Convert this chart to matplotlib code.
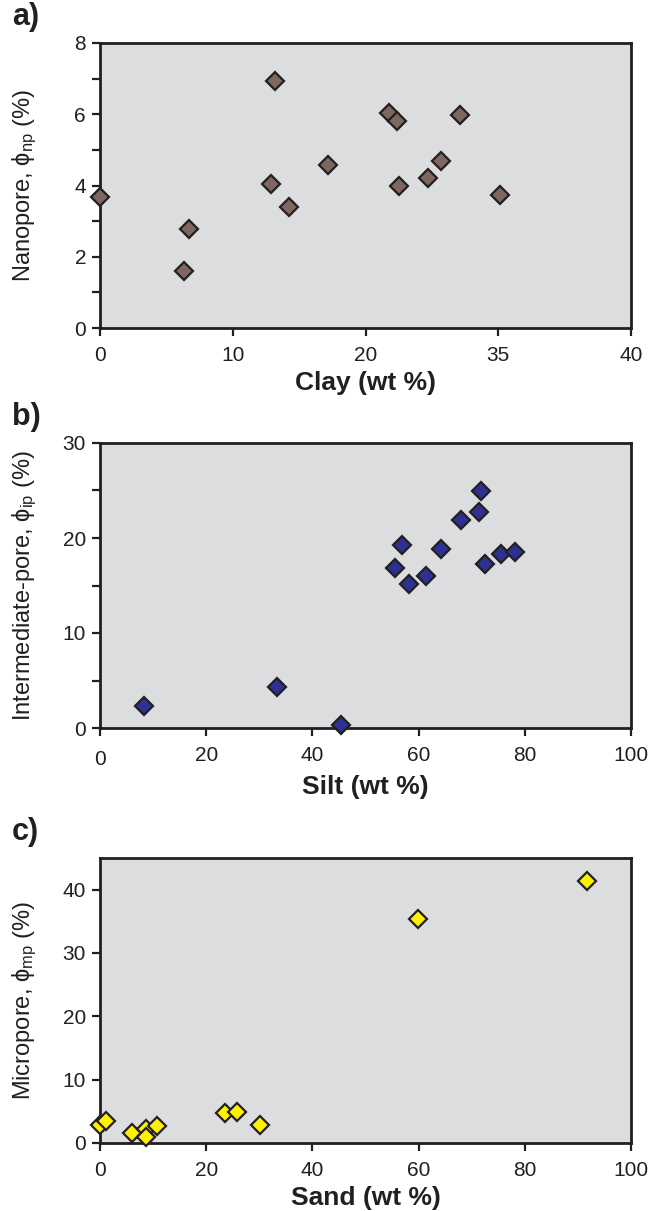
import matplotlib
matplotlib.use("Agg")
import matplotlib.pyplot as plt
from matplotlib.ticker import FixedLocator

plt.rcParams["font.family"] = ["Liberation Sans", "DejaVu Sans"]
plt.rcParams["mathtext.fontset"] = "custom"
plt.rcParams["mathtext.rm"] = "Liberation Sans"
plt.rcParams["mathtext.it"] = "Liberation Sans:italic"

# (a) clay vs nanopore
clay = [0.0, 6.7, 6.3, 12.9, 13.2, 14.2, 17.2, 21.8, 22.4, 22.5, 24.7, 25.7, 27.1, 30.1]
nano = [3.67, 2.77, 1.60, 4.05, 6.94, 3.39, 4.57, 6.03, 5.82, 4.00, 4.22, 4.68, 5.99, 3.74]
clay_ticks = [0, 10, 20, 30, 40]
clay_ticklabels = ["0", "10", "20", "35", "40"]

# (b) silt vs intermediate pore
silt = [8.3, 33.4, 45.3, 55.6, 56.9, 58.2, 61.3, 64.3, 67.9, 71.4, 71.8, 72.5, 75.6, 78.1]
inter = [2.35, 4.32, 0.35, 16.8, 19.3, 15.2, 16.0, 18.8, 21.9, 22.7, 24.9, 17.3, 18.3, 18.5]

# (c) sand vs micropore
sand = [0.0, 1.2, 6.1, 8.6, 8.7, 10.7, 23.6, 25.8, 30.2, 59.9, 91.7]
micro = [2.9, 3.4, 1.6, 2.2, 0.95, 2.75, 4.75, 4.9, 2.9, 35.4, 41.4]

INK = "#231f20"
BG = "#dcdddf"

fig = plt.figure(figsize=(6.49, 12.11), dpi=100)
W, H = 649, 1211


def make_ax(top_px):
    return fig.add_axes([100 / W, 1 - (top_px + 285) / H, 531 / W, 285 / H])


def style(ax):
    ax.set_facecolor(BG)
    for s in ax.spines.values():
        s.set_color(INK)
        s.set_linewidth(2)
    ax.tick_params(which="both", direction="out", color=INK, width=1.6, labelcolor=INK)
    ax.tick_params(which="major", length=6, labelsize=15, pad=7)
    ax.tick_params(which="minor", length=6)
    ax.tick_params(axis="y", pad=4)


panels = [
    (43, clay, nano, "#7d675f", "a)"),
    (443, silt, inter, "#2e3192", "b)"),
    (858, sand, micro, "#fff200", "c)"),
]

axes = []
for top, xs, ys, col, tag in panels:
    ax = make_ax(top)
    style(ax)
    ax.plot(xs, ys, "D", ms=8.8, mfc=col, mec=INK, mew=1.6, clip_on=False, zorder=5)
    fig.text(12 / W, 1 - (top - 26) / H, tag, fontsize=22, fontweight="bold",
             color=INK, va="center", ha="left")
    axes.append(ax)

ax1, ax2, ax3 = axes
phi = "\u03d5"

ax1.set_xlim(0, 40)
ax1.set_ylim(0, 8)
ax1.set_xticks(clay_ticks)
ax1.set_xticklabels(clay_ticklabels)
ax1.set_yticks([0, 2, 4, 6, 8])
ax1.yaxis.set_minor_locator(FixedLocator([1, 3, 5, 7]))
ax1.set_xlabel("Clay (wt %)", fontsize=19, fontweight="bold", color=INK, labelpad=4)
ax1.set_ylabel("Nanopore, " + phi + r"$_{\rm np}$ (%)", fontsize=17, color=INK)

ax2.set_xlim(0, 100)
ax2.set_ylim(0, 30)
ax2.set_xticks([0, 20, 40, 60, 80, 100])
ax2.set_yticks([0, 10, 20, 30])
ax2.yaxis.set_minor_locator(FixedLocator([5, 15, 25]))
ax2.xaxis.get_major_ticks()[0].set_pad(10)
ax2.set_xlabel("Silt (wt %)", fontsize=19, fontweight="bold", color=INK, labelpad=4)
ax2.set_ylabel("Intermediate-pore, " + phi + r"$_{\rm ip}$ (%)", fontsize=17, color=INK)

ax3.set_xlim(0, 100)
ax3.set_ylim(0, 45)
ax3.set_xticks([0, 20, 40, 60, 80, 100])
ax3.set_yticks([0, 10, 20, 30, 40])
ax3.set_xlabel("Sand (wt %)", fontsize=19, fontweight="bold", color=INK, labelpad=4)
ax3.set_ylabel("Micropore, " + phi + r"$_{\rm mp}$ (%)", fontsize=17, color=INK)

for ax in axes:
    ax.yaxis.set_label_coords(-0.115, 0.5)

fig.savefig("out.png", dpi=100, facecolor="white")
